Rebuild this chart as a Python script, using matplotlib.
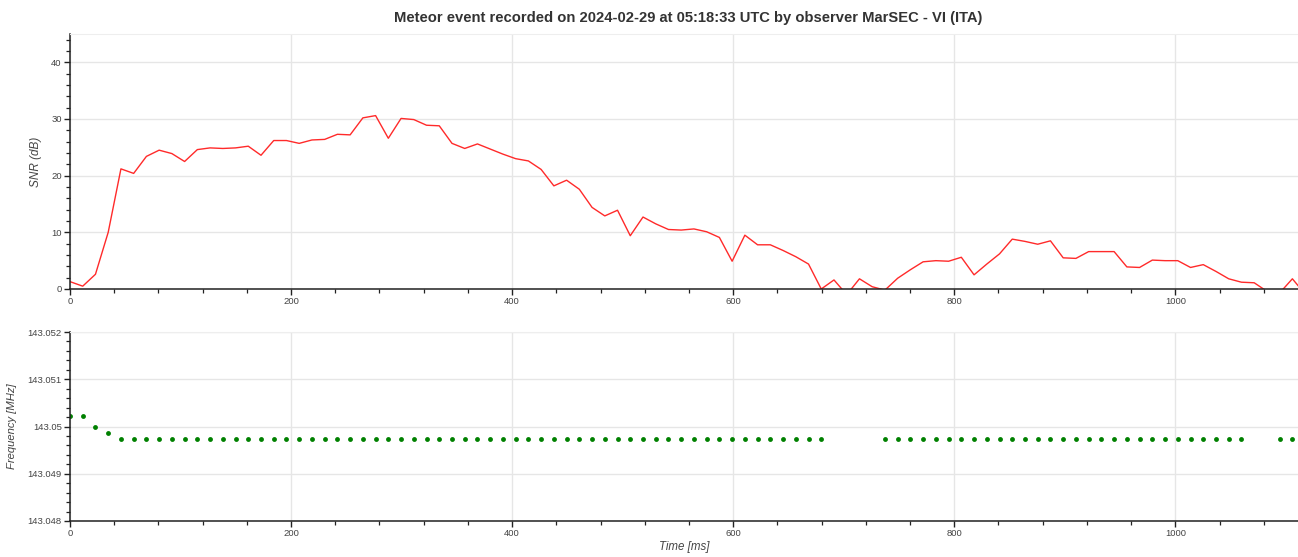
import numpy as np
import matplotlib
matplotlib.use("Agg")
import matplotlib.pyplot as plt
from matplotlib.ticker import MultipleLocator, FuncFormatter

plt.rcParams['font.family'] = ['Liberation Sans', 'DejaVu Sans']

title = "Meteor event recorded on 2024-02-29 at 05:18:33 UTC by observer MarSEC - VI (ITA)"

time_ms = [0, 11.52, 23.04, 34.56, 46.08, 57.6, 69.12, 80.64, 92.16, 103.68,
           115.2, 126.72, 138.24, 149.76, 161.28, 172.8, 184.32, 195.84, 207.36, 218.88,
           230.4, 241.92, 253.44, 264.96, 276.48, 288.0, 299.52, 311.04, 322.56, 334.08,
           345.6, 357.12, 368.64, 380.16, 391.68, 403.2, 414.72, 426.24, 437.76, 449.28,
           460.8, 472.32, 483.84, 495.36, 506.88, 518.4, 529.92, 541.44, 552.96, 564.48,
           576.0, 587.52, 599.04, 610.56, 622.08, 633.6, 645.12, 656.64, 668.16, 679.68,
           691.2, 702.72, 714.24, 725.76, 737.28, 748.8, 760.32, 771.84, 783.36, 794.88,
           806.4, 817.92, 829.44, 840.96, 852.48, 864.0, 875.52, 887.04, 898.56, 910.08,
           921.6, 933.12, 944.64, 956.16, 967.68, 979.2, 990.72, 1002.24, 1013.76, 1025.28,
           1036.8, 1048.32, 1059.84, 1071.36, 1082.88, 1094.4, 1105.92, 1117.44]

snr_db = [1.3, 0.5, 2.6, 10.0, 21.2, 20.4, 23.4, 24.5, 23.9, 22.5,
          24.6, 24.9, 24.8, 24.9, 25.2, 23.6, 26.2, 26.2, 25.7, 26.3,
          26.4, 27.3, 27.2, 30.2, 30.6, 26.6, 30.1, 29.9, 28.9, 28.8,
          25.7, 24.8, 25.6, 24.7, 23.8, 23.0, 22.6, 21.1, 18.2, 19.2,
          17.6, 14.4, 12.9, 13.9, 9.4, 12.7, 11.5, 10.5, 10.4, 10.6,
          10.1, 9.1, 4.9, 9.5, 7.8, 7.8, 6.8, 5.7, 4.4, 0.0,
          1.6, -1.0, 1.8, 0.4, -0.2, 1.9, 3.4, 4.8, 5.0, 4.9,
          5.6, 2.5, 4.4, 6.2, 8.8, 8.4, 7.9, 8.5, 5.5, 5.4,
          6.6, 6.6, 6.6, 3.9, 3.8, 5.1, 5.0, 5.0, 3.8, 4.3,
          3.1, 1.8, 1.2, 1.1, -0.4, -0.7, 1.8, -0.9]

nan = float('nan')
F0 = 143.049742
freq_mhz = [143.05023, 143.05023, 143.049982, 143.049855, F0, F0, F0, F0, F0, F0,
            F0, F0, F0, F0, F0, F0, F0, F0, F0, F0,
            F0, F0, F0, F0, F0, F0, F0, F0, F0, F0,
            F0, F0, F0, F0, F0, F0, F0, F0, F0, F0,
            F0, F0, F0, F0, F0, F0, F0, F0, F0, F0,
            F0, F0, F0, F0, F0, F0, F0, F0, F0, F0,
            nan, nan, nan, nan, F0, F0, F0, F0, F0, F0,
            F0, F0, F0, F0, F0, F0, F0, F0, F0, F0,
            F0, F0, F0, F0, F0, F0, F0, F0, F0, F0,
            F0, F0, F0, nan, nan, F0, F0, F0]

W, H = 1298, 557
fig = plt.figure(figsize=(W / 100, H / 100), dpi=100)

L = 70 / W
ax1 = fig.add_axes([L, 1 - 289 / H, 1 - L, (289 - 34) / H])
ax2 = fig.add_axes([L, 1 - 521 / H, 1 - L, (521 - 332) / H])

TXT = '#444444'
GRID = '#e6e6e6'

for ax in (ax1, ax2):
    ax.set_xlim(0, 1111)
    ax.xaxis.set_major_locator(MultipleLocator(200))
    ax.xaxis.set_minor_locator(MultipleLocator(40))
    ax.grid(True, which='major', color=GRID, linewidth=1)
    ax.set_axisbelow(True)
    ax.spines['right'].set_visible(False)
    ax.spines['top'].set_color('#eeeeee')
    ax.spines['left'].set_color('#222222')
    ax.spines['bottom'].set_color('#222222')
    ax.spines['left'].set_linewidth(1.1)
    ax.spines['bottom'].set_linewidth(1.1)
    ax.tick_params(which='major', direction='out', length=4.5, width=1, color='#222222',
                   labelsize=6.8, labelcolor=TXT, pad=1.5)
    ax.tick_params(which='minor', direction='out', length=2.8, width=0.9, color='#222222')

ax1.plot(time_ms, snr_db, color='#ff2a2a', linewidth=1.0)
ax1.set_ylim(0, 45)
ax1.yaxis.set_major_locator(MultipleLocator(10))
ax1.yaxis.set_minor_locator(MultipleLocator(2))
ax1.set_ylabel('SNR (dB)', fontsize=8.5, style='italic', color=TXT)
ax1.yaxis.set_label_coords((42 - 70) / (W - 70), 0.5)

ax2.plot(time_ms, freq_mhz, linestyle='none', marker='o', markersize=3.5,
         color='#008000', markeredgewidth=0)
ax2.set_ylim(143.048, 143.052)
ax2.yaxis.set_major_locator(MultipleLocator(0.001))
ax2.yaxis.set_minor_locator(MultipleLocator(0.0002))
ax2.yaxis.set_major_formatter(FuncFormatter(lambda v, p: f"{v:.3f}".rstrip('0').rstrip('.')))
ax2.set_ylabel('Frequency [MHz]', fontsize=8.1, style='italic', color=TXT)
ax2.yaxis.set_label_coords((17 - 70) / (W - 70), 0.5)
ax2.set_xlabel('Time [ms]', fontsize=8.3, style='italic', color=TXT, labelpad=2)

fig.text(688 / W, 1 - 18 / H, title, ha='center', va='center', fontsize=10.6,
         fontweight='bold', color='#333333')

fig.savefig('out.png', dpi=100)
